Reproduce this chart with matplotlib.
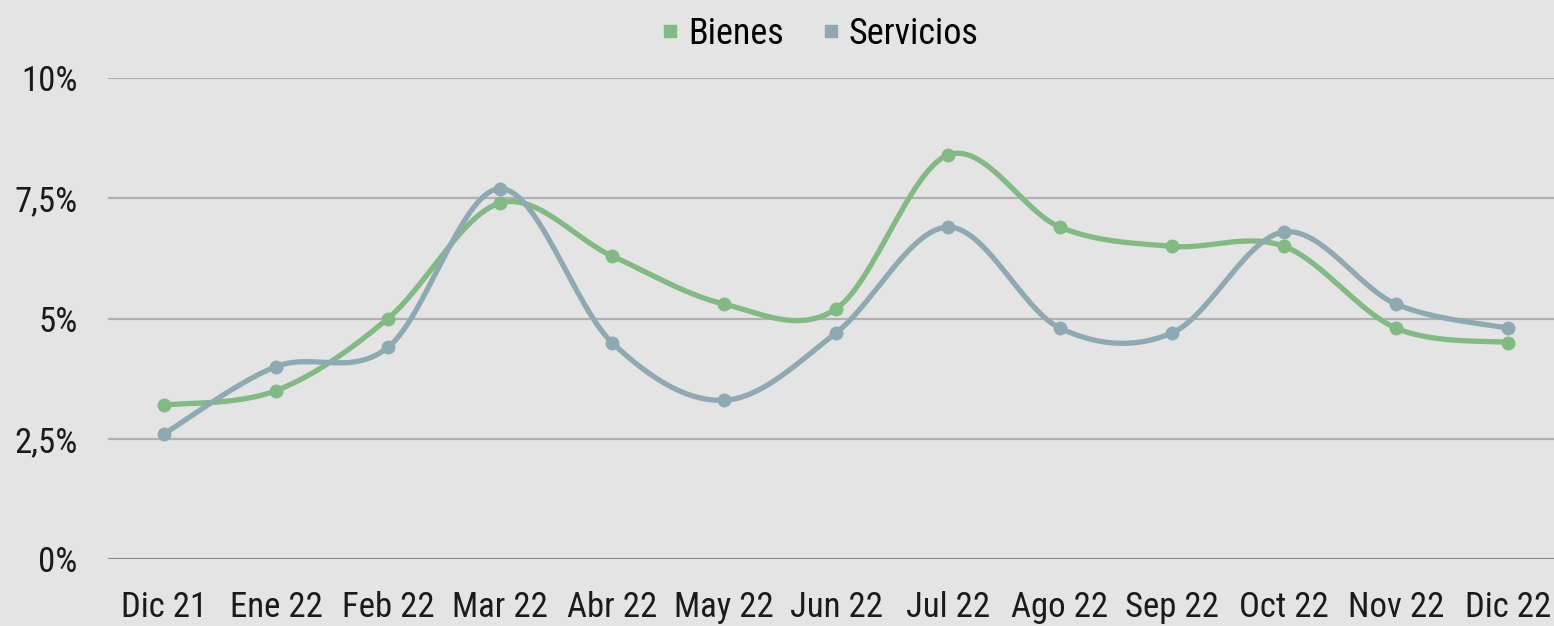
import matplotlib

matplotlib.use("Agg")

import matplotlib.pyplot as plt
from matplotlib import font_manager
from matplotlib.lines import Line2D
from matplotlib.ticker import FuncFormatter
import numpy as np

months = ["Dic 21", "Ene 22", "Feb 22", "Mar 22", "Abr 22", "May 22", "Jun 22",
          "Jul 22", "Ago 22", "Sep 22", "Oct 22", "Nov 22", "Dic 22"]
bienes = [3.2, 3.5, 5.0, 7.4, 6.3, 5.3, 5.2, 8.4, 6.9, 6.5, 6.5, 4.8, 4.5]
servicios = [2.6, 4.0, 4.4, 7.7, 4.5, 3.3, 4.7, 6.9, 4.8, 4.7, 6.8, 5.3, 4.8]
y_ticks = [0, 2.5, 5, 7.5, 10]

GREEN = "#82b984"
GREY = "#8fa9b2"
BG = "#e4e4e4"

installed = {f.name for f in font_manager.fontManager.ttflist}
family = next((f for f in ["Liberation Sans Narrow", "Roboto Condensed", "Roboto", "DejaVu Sans"]
               if f in installed), "DejaVu Sans")
plt.rcParams["font.family"] = [family, "DejaVu Sans"]


def smooth(y, steps=30):
    # bezier through points, catmull-rom style control points
    pts = np.column_stack([np.arange(len(y), dtype=float), np.asarray(y, dtype=float)])
    n = len(pts)
    xs, ys = [], []
    t = np.linspace(0, 1, steps)
    for i in range(n - 1):
        p0 = pts[max(i - 1, 0)]
        p1 = pts[i]
        p2 = pts[i + 1]
        p3 = pts[min(i + 2, n - 1)]
        c1 = p1 + (p2 - p0) / 6
        c2 = p2 - (p3 - p1) / 6
        seg = ((1 - t) ** 3)[:, None] * p1 + (3 * (1 - t) ** 2 * t)[:, None] * c1 \
            + (3 * (1 - t) * t ** 2)[:, None] * c2 + (t ** 3)[:, None] * p2
        xs.append(seg[:, 0])
        ys.append(seg[:, 1])
    return np.concatenate(xs), np.concatenate(ys)


W, H, dpi = 1554, 626, 100
fig = plt.figure(figsize=(W / dpi, H / dpi), dpi=dpi, facecolor=BG)
left, right = 108 / W, 1564 / W
bottom, top = 1 - 559 / H, 1 - 78 / H
ax = fig.add_axes([left, bottom, right - left, top - bottom])
ax.set_facecolor(BG)

for yv in y_ticks:
    ax.axhline(yv, color="#8a8a8a" if yv == 0 else "#b0b0b0", lw=1.6, zorder=1)

x = np.arange(len(months))
for vals, col in [(bienes, GREEN), (servicios, GREY)]:
    sx, sy = smooth(vals)
    ax.plot(sx, sy, color=col, lw=3.8, solid_capstyle="round", zorder=3)
    ax.plot(x, vals, "o", color=col, ms=9, zorder=4)

ax.set_xlim(-0.5, len(months) - 0.5)
ax.set_ylim(0, 10)
ax.set_xticks(x)
ax.set_xticklabels(months)
ax.set_yticks(y_ticks)
ax.yaxis.set_major_formatter(FuncFormatter(lambda v, p: f"{v:g}".replace(".", ",") + "%"))
ax.tick_params(axis="both", length=0, labelsize=25, colors="#1a1a1a")
ax.tick_params(axis="y", pad=22)
ax.tick_params(axis="x", pad=23)
for s in ax.spines.values():
    s.set_visible(False)

handles = [Line2D([], [], marker="s", ls="none", color=GREEN, ms=8),
           Line2D([], [], marker="s", ls="none", color=GREY, ms=8)]
fig.legend(handles, ["Bienes", "Servicios"], loc="center", bbox_to_anchor=(819 / W, 1 - 34 / H),
           ncol=2, frameon=False, fontsize=26, handletextpad=0.2, columnspacing=1.0,
           handlelength=0.6, borderaxespad=0)

fig.savefig("out.png", dpi=dpi, facecolor=BG)
